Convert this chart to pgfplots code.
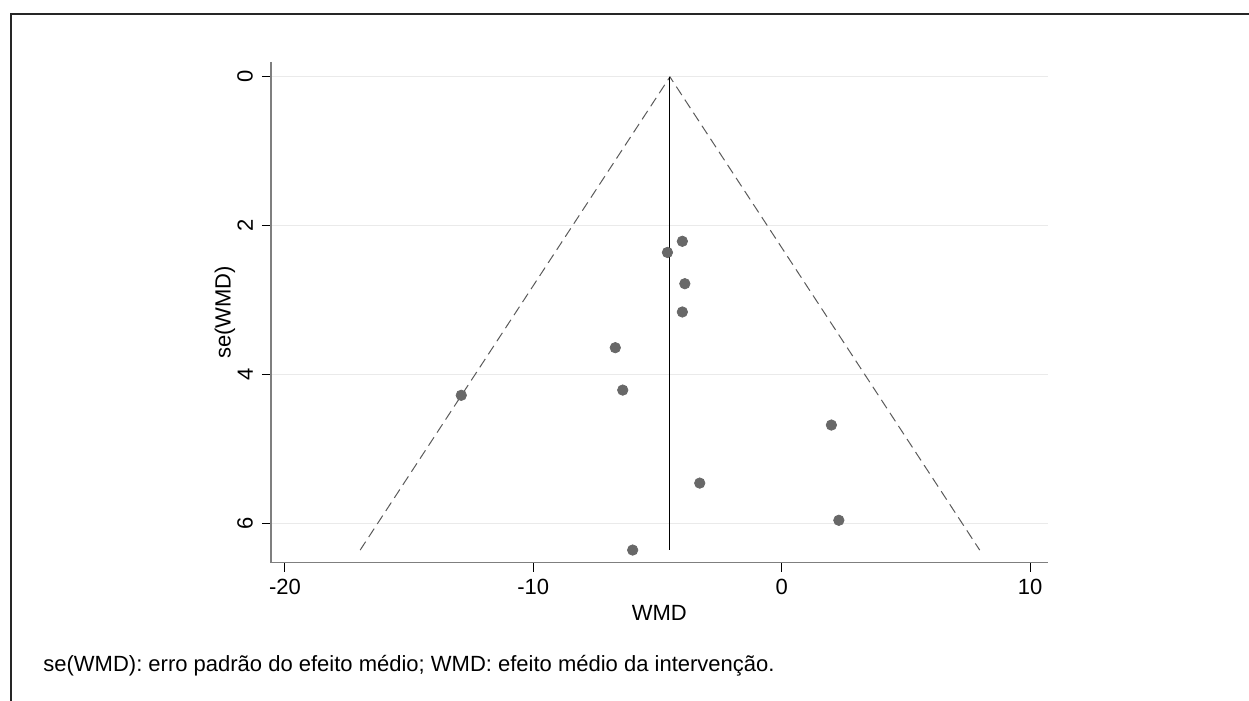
\documentclass[border=0pt]{standalone}
\usepackage{fontspec}
\setmainfont{Liberation Sans}
\usepackage{pgfplots}
\pgfplotsset{compat=1.18}
\definecolor{dotgray}{HTML}{686868}
\definecolor{dashgray}{HTML}{5A5A5A}
\definecolor{gridgray}{HTML}{EAEAEA}
\definecolor{axgray}{HTML}{7F7F7F}
\begin{document}
\begin{tikzpicture}[x=1pt,y=1pt]
\useasboundingbox (-135.5,-69.15) rectangle (489,281.35);
\draw[line width=0.8pt, color=black!85] (-130,-70) -- (-130,274.35) -- (490,274.35);
\begin{axis}[
  at={(0,0)}, anchor=south west,
  scale only axis, width=388.25pt, height=250.35pt,
  xmin=-20.56, xmax=10.7, ymin=-0.2, ymax=6.53, y dir=reverse,
  axis lines=left, axis line style={-, color=axgray, line width=0.6pt},
  xtick={-20,-10,0,10}, ytick={0,2,4,6},
  tick align=outside, major tick length=4.5pt,
  tick style={black, line width=0.5pt},
  ymajorgrids, grid style={gridgray, line width=0.5pt},
  /pgf/number format/assume math mode=true,
  ticklabel style={font=\fontsize{11}{13}\selectfont},
  yticklabel style={rotate=90, anchor=south, yshift=1pt},
  xlabel={WMD}, ylabel={se(WMD)},
  label style={font=\fontsize{11}{13}\selectfont},
  xlabel style={at={(axis description cs:0.5,0)}, anchor=north, yshift=-18pt},
  ylabel style={at={(axis description cs:-0.0592,0.5)}, anchor=center},
  clip=false,
]
\addplot[dashgray, line width=0.5pt, dash pattern=on 5pt off 2.8pt] coordinates {(-16.97,6.36) (-4.5,0) (7.97,6.36)};
\addplot[black, line width=0.45pt] coordinates {(-4.5,0) (-4.5,6.36)};
\addplot[only marks, mark=*, mark size=2.6pt, color=dotgray, fill=dotgray] coordinates {
(-4.0,2.21) (-4.6,2.36) (-3.9,2.78) (-4.0,3.16) (-6.7,3.64) (-6.4,4.21)
(-12.9,4.28) (2.0,4.68) (-3.3,5.46) (2.3,5.96) (-6.0,6.36)
};
\end{axis}
\node[anchor=base west, inner sep=0pt, font=\fontsize{11}{13}\selectfont] at (-114,-54.65) {se(WMD): erro padrão do efeito médio; WMD: efeito médio da intervenção.};
\end{tikzpicture}
\end{document}
